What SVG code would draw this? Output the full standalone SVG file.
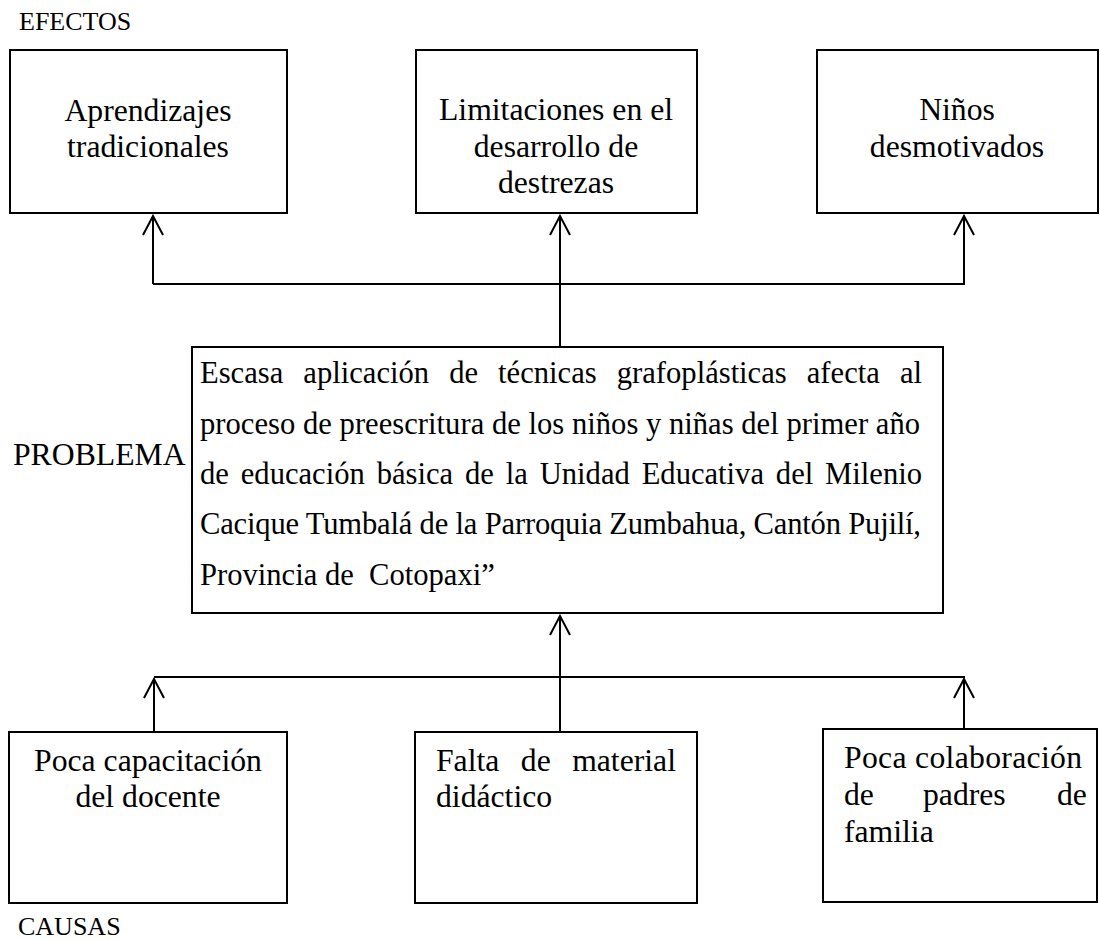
<svg xmlns="http://www.w3.org/2000/svg" width="1100" height="940" viewBox="0 0 1100 940">
<style>
.box{fill:#fff;stroke:#000;stroke-width:2}
.t{font-family:"Liberation Serif","Times New Roman",serif;font-size:31.7px;fill:#000}
.p{font-family:"Liberation Serif","Times New Roman",serif;font-size:30.6px;fill:#000}
.lbl{font-family:"Liberation Serif","Times New Roman",serif;font-size:26px;fill:#000}
.c{text-anchor:middle}
.ln{fill:none;stroke:#000;stroke-width:2}
</style>
<defs>
<marker id="ah" viewBox="-22 -12 24 24" refX="0" refY="0" markerWidth="24" markerHeight="24" markerUnits="userSpaceOnUse" orient="auto">
<path d="M-19,-10 L0,0 L-19,10" fill="none" stroke="#000" stroke-width="2"/>
</marker>
</defs>
<rect width="1100" height="940" fill="#fff"/>
<text class="lbl" x="19" y="30">EFECTOS</text>
<text class="t" x="13" y="465">PROBLEMA</text>
<text class="lbl" x="18" y="935">CAUSAS</text>

<g id="connectors">
<line class="ln" x1="153" y1="284" x2="965" y2="284"/>
<line class="ln" x1="153" y1="284" x2="153" y2="216" marker-end="url(#ah)"/>
<line class="ln" x1="560" y1="347" x2="560" y2="216" marker-end="url(#ah)"/>
<line class="ln" x1="964" y1="284" x2="964" y2="216" marker-end="url(#ah)"/>
<line class="ln" x1="154" y1="677" x2="965" y2="677"/>
<line class="ln" x1="154" y1="732" x2="154" y2="679" marker-end="url(#ah)"/>
<line class="ln" x1="560" y1="732" x2="560" y2="616" marker-end="url(#ah)"/>
<line class="ln" x1="964" y1="729" x2="964" y2="679" marker-end="url(#ah)"/>
</g>

<g id="efecto1">
<rect class="box" x="10" y="50" width="277" height="163"/>
<text class="t c" x="148" y="121">Aprendizajes</text>
<text class="t c" x="148" y="157">tradicionales</text>
</g>
<g id="efecto2">
<rect class="box" x="416" y="50" width="281" height="163"/>
<text class="t c" x="556" y="120">Limitaciones en el</text>
<text class="t c" x="556" y="157">desarrollo de</text>
<text class="t c" x="556" y="193">destrezas</text>
</g>
<g id="efecto3">
<rect class="box" x="817" y="50" width="281" height="163"/>
<text class="t c" x="957" y="120">Niños</text>
<text class="t c" x="957" y="157">desmotivados</text>
</g>

<g id="problema">
<rect class="box" x="192" y="347" width="751" height="266"/>
<text class="p" x="200" y="383" word-spacing="12.4" textLength="722" lengthAdjust="spacing">Escasa aplicación de técnicas grafoplásticas afecta al</text>
<text class="p" x="200" y="434" textLength="720" lengthAdjust="spacing">proceso de preescritura de los niños y niñas del primer año</text>
<text class="p" x="200" y="484" word-spacing="4.2" textLength="722" lengthAdjust="spacing">de educación básica de la Unidad Educativa del Milenio</text>
<text class="p" x="200" y="534" textLength="721" lengthAdjust="spacing">Cacique Tumbalá de la Parroquia Zumbahua, Cantón Pujilí,</text>
<text class="p" x="200" y="585" xml:space="preserve">Provincia de  Cotopaxi”</text>
</g>

<g id="causa1">
<rect class="box" x="9" y="732" width="278" height="171"/>
<text class="t c" x="148" y="771">Poca capacitación</text>
<text class="t c" x="148" y="807">del docente</text>
</g>
<g id="causa2">
<rect class="box" x="415" y="732" width="282" height="171"/>
<text class="t" x="436" y="771" word-spacing="13.5" textLength="240" lengthAdjust="spacing">Falta de material</text>
<text class="t" x="436" y="807">didáctico</text>
</g>
<g id="causa3">
<rect class="box" x="823" y="729" width="274" height="173"/>
<text class="t" x="844" y="768" textLength="238" lengthAdjust="spacing">Poca colaboración</text>
<text class="t" y="805"><tspan x="844">de</tspan><tspan x="923">padres</tspan><tspan x="1057">de</tspan></text>
<text class="t" x="844" y="842">familia</text>
</g>
</svg>
